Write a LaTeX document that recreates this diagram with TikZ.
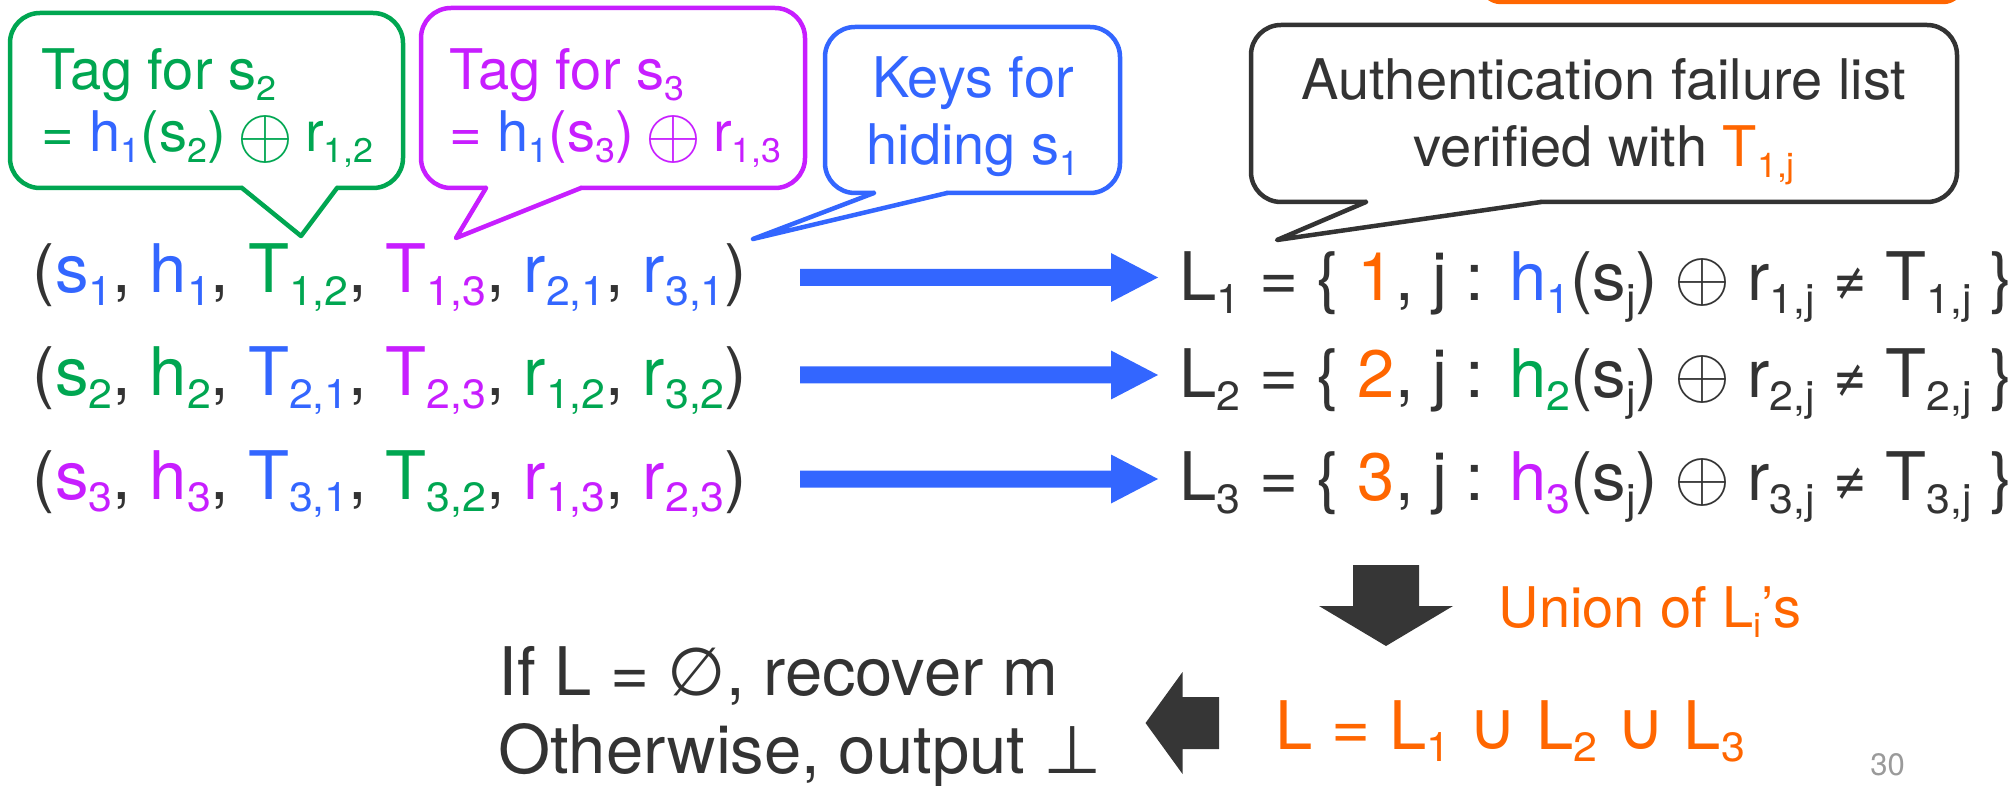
\documentclass[tikz,border=0pt]{standalone}
\usepackage{fontspec}
\setmainfont{TeX Gyre Heros}
\newfontfamily\symf{DejaVu Sans}
\usetikzlibrary{calc}

\definecolor{cB}{HTML}{3366FF}
\definecolor{cG}{HTML}{00A651}
\definecolor{cM}{HTML}{C71EFF}
\definecolor{cO}{HTML}{FF6600}
\definecolor{cD}{HTML}{333333}
\definecolor{cK}{HTML}{363636}
\definecolor{cP}{HTML}{9A9A9A}

% lowered, reduced index
\newcommand\sbx[1]{\raisebox{-0.18em}{\scalebox{0.64}[0.61]{#1}}}
% coloured symbol with its index
\newcommand\tk[3]{\textcolor{#1}{#2\sbx{#3}}}
% operators: circled plus set at 10pt and enlarged, narrow not-equal sign
\newcommand\xorsign{\scalebox{3.6}{\fontsize{10pt}{12pt}\selectfont$\oplus$}}
\newcommand\opl{\hspace{-1pt}\xorsign\hspace{-1pt}}
\newcommand\oplc{\hspace{-2pt}\raisebox{-3pt}{\xorsign}\hspace{-2pt}}
\newcommand\nq{\scalebox{0.6}[0.8]{\symf ≠}}

\tikzset{
  txt/.style={inner sep=0pt, text=cD, font=\fontsize{33.5pt}{40pt}\selectfont},
  ctxt/.style={inner sep=0pt, text=cD, font=\fontsize{28pt}{34pt}\selectfont},
  bubble/.style={line width=2.25pt, line join=round, line cap=round},
  boxcorner/.style={rounded corners=15pt}
}

\begin{document}
\begin{tikzpicture}[x=0.5pt,y=-0.5pt]
\path[use as bounding box] (0,0) rectangle (2015,786);
\clip (0,0) rectangle (2015,786);

% box running off the top edge
\draw[cO, line width=2.25pt, rounded corners=10pt] (1481,-80) rectangle (1963,2);

% ---- speech bubbles ----
% green
\draw[bubble, boxcorner, cG] (10,13) rectangle (403,188);
\fill[white] (243,185) -- (336,185) -- (337,188) -- (301,236) -- (242,188) -- cycle;
\draw[bubble, cG] (242,188) -- (301,236) -- (337,188);
% magenta
\draw[bubble, boxcorner, cM] (421,8) rectangle (805,188);
\fill[white] (487,185) -- (580,185) -- (581,188) -- (456,238) -- (486,188) -- cycle;
\draw[bubble, cM] (486,188) -- (456,238) -- (581,188);
% blue
\draw[bubble, boxcorner, cB] (825,27) rectangle (1120,193);
\fill[white] (875,190) -- (946,190) -- (947,193) -- (753,239) -- (874,193) -- cycle;
\draw[bubble, cB] (874,193) -- (753,239) -- (947,193);
% dark
\draw[bubble, boxcorner, cD] (1251,25) rectangle (1957,202);
\fill[white] (1367,199) -- (1540,199) -- (1541,202) -- (1277,240) -- (1366,202) -- cycle;
\draw[bubble, cD] (1366,202) -- (1277,240) -- (1541,202);

% bubble texts
\node[ctxt, text=cG, anchor=base west] (g1) at (41,90) {Tag for s\sbx{2}};
\node[ctxt, text=cG, anchor=base west] (g2) at (41,152) {= \tk{cB}{h}{1}(s\sbx{2}) \oplc{} r\sbx{1,2}};
\node[ctxt, text=cM, anchor=base west] (m1) at (449,90) {Tag for s\sbx{3}};
\node[ctxt, text=cM, anchor=base west] (m2) at (449,152) {= \tk{cB}{h}{1}(s\sbx{3}) \oplc{} r\sbx{1,3}};
\node[ctxt, text=cB, anchor=base] (k1) at (973,98) {Keys for};
\node[ctxt, text=cB, anchor=base] (k2) at (973,165) {hiding s\sbx{1}};
\node[ctxt, anchor=base] (a1) at (1604,100) {Authentication failure list};
\node[ctxt, anchor=base] (a2) at (1604,167) {verified with \tk{cO}{T}{1,j}};

% ---- shares held by each party ----
\node[txt, anchor=base west] (row1) at (32.5,293)
  {(\tk{cB}{s}{1}, \tk{cB}{h}{1}, \tk{cG}{T}{1,2}, \tk{cM}{T}{1,3}, \tk{cB}{r}{2,1}, \tk{cB}{r}{3,1})};
\node[txt, anchor=base west] (row2) at (32.5,396)
  {(\tk{cG}{s}{2}, \tk{cG}{h}{2}, \tk{cB}{T}{2,1}, \tk{cM}{T}{2,3}, \tk{cG}{r}{1,2}, \tk{cG}{r}{3,2})};
\node[txt, anchor=base west] (row3) at (32.5,499)
  {(\tk{cM}{s}{3}, \tk{cM}{h}{3}, \tk{cB}{T}{3,1}, \tk{cG}{T}{3,2}, \tk{cM}{r}{1,3}, \tk{cM}{r}{2,3})};

% ---- failure lists ----
\node[txt, anchor=base west] (L1) at (1179,301)
  {L\sbx{1} = \{ \textcolor{cO}{1}, j : \tk{cB}{h}{1}(s\sbx{j}) \opl{} r\sbx{1,j} \nq{} T\sbx{1,j} \}};
\node[txt, anchor=base west] (L2) at (1179,398)
  {L\sbx{2} = \{ \textcolor{cO}{2}, j : \tk{cG}{h}{2}(s\sbx{j}) \opl{} r\sbx{2,j} \nq{} T\sbx{2,j} \}};
\node[txt, anchor=base west] (L3) at (1179,501)
  {L\sbx{3} = \{ \textcolor{cO}{3}, j : \tk{cM}{h}{3}(s\sbx{j}) \opl{} r\sbx{3,j} \nq{} T\sbx{3,j} \}};

% block arrows from each share tuple to its list
\foreach \i/\a/\b in {1/15.5/23.5, 2/21/23, 3/20/22}{
  \fill[cB] let \p1=($(row\i.base east)+(52.5,-\a)$), \p2=($(L\i.base west)+(-21,-\b)$) in
    (\x1,\y1+4.25pt) -- (\x2-23.5pt,\y1+4.25pt) -- (\x2-23.5pt,\y1+12.25pt) -- (\x2,\y1)
    -- (\x2-23.5pt,\y1-12.25pt) -- (\x2-23.5pt,\y1-4.25pt) -- (\x1,\y1-4.25pt) -- cycle;
}

% ---- union and decision ----
\node[ctxt, text=cO, anchor=base west] (un) at (1498.5,627) {Union of L\sbx{i}’s};
\node[txt, text=cO, anchor=base west] (Lu) at (1275,749)
  {L = L\sbx{1} {\symf ∪} L\sbx{2} {\symf ∪} L\sbx{3}};
\node[txt, anchor=base west] (res1) at (498,695) {If L = {\symf ∅}, recover m};
\node[txt, anchor=base west] (res2) at (498,773) {Otherwise, output {\symf ⊥}};
\node[inner sep=0pt, text=cP, font=\fontsize{15.5pt}{18pt}\selectfont, anchor=base west] (pg) at (1870,775) {30};

% down arrow: lists to union
\fill[cK] let \p1=($(L3.base west)+(207,64)$), \p2=($(Lu.base west)+(111,-103)$) in
  (\x1-16.5pt,\y1) -- (\x1-16.5pt,\y2+20pt) -- (\x1-33.5pt,\y2+20pt) -- (\x1,\y2)
  -- (\x1+33.5pt,\y2+20pt) -- (\x1+16.5pt,\y2+20pt) -- (\x1+16.5pt,\y1) -- cycle;
% left arrow: union to decision
\fill[cK] let \p1=($(Lu.base west)+(-56,-26)$), \p2=($(res2.base east)+(43,-50)$) in
  (\x1,\y1+13pt) -- (\x2+18.5pt,\y1+13pt) -- (\x2+18.5pt,\y1+25.5pt) -- (\x2,\y1)
  -- (\x2+18.5pt,\y1-25.5pt) -- (\x2+18.5pt,\y1-13pt) -- (\x1,\y1-13pt) -- cycle;
\end{tikzpicture}
\end{document}
